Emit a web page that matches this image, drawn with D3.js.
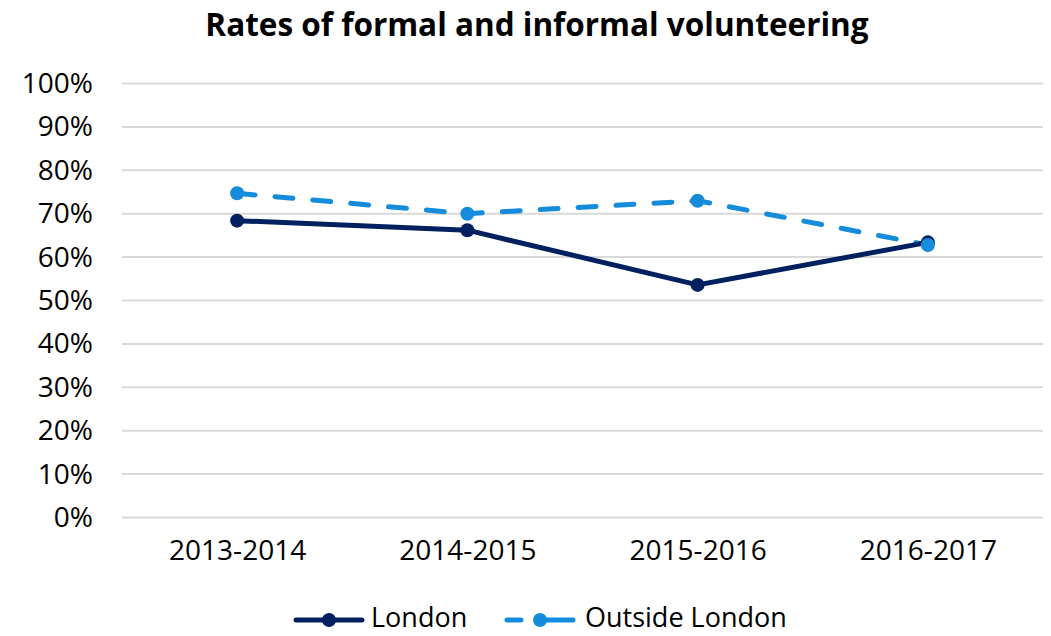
<!DOCTYPE html>
<html>
<head>
<meta charset="utf-8">
<script src="https://cdn.jsdelivr.net/npm/d3@7"></script>
<style>
  body { margin: 0; background: #fff; }
  text { font-family: "Open Sans", sans-serif; }
</style>
</head>
<body>
<div class="chart"></div>
<script>
const years = ["2013-2014", "2014-2015", "2015-2016", "2016-2017"];
const london = [68.4, 66.2, 53.6, 63.4];
const outsideLondon = [74.7, 70.0, 73.0, 62.8];
const yTicks = [0, 10, 20, 30, 40, 50, 60, 70, 80, 90, 100];

const svgWidth = 1051;
const svgHeight = 636;

const margin = { left: 122, right: 8, top: 83.5, bottom: 118.5 };

let svg = d3.select(".chart")
            .append("svg")
            .attr("width", svgWidth)
            .attr("height", svgHeight);

const xScale = d3.scalePoint()
                 .domain(years)
                 .range([margin.left, svgWidth - margin.right])
                 .padding(0.5);

const yScale = d3.scaleLinear()
                 .domain([0, 100])
                 .range([svgHeight - margin.bottom, margin.top]);

// gridlines
svg.append("g")
   .selectAll("line")
   .data(yTicks)
   .enter()
   .append("line")
   .attr("x1", margin.left)
   .attr("x2", svgWidth - margin.right)
   .attr("y1", d => yScale(d))
   .attr("y2", d => yScale(d))
   .attr("stroke", "#d9d9d9")
   .attr("stroke-width", 2);

const yAxis = d3.axisLeft(yScale)
                .tickValues(yTicks)
                .tickFormat(d => d + "%")
                .tickSize(0)
                .tickPadding(29);

svg.append("g")
   .attr("transform", "translate(" + margin.left + ",0)")
   .call(yAxis)
   .call(g => g.select(".domain").remove())
   .selectAll("text")
   .attr("font-family", "Open Sans")
   .attr("font-size", "28px")
   .attr("fill", "#000");

const xAxis = d3.axisBottom(xScale)
                .tickSize(0)
                .tickPadding(23);

svg.append("g")
   .attr("transform", "translate(0," + (svgHeight - margin.bottom) + ")")
   .call(xAxis)
   .call(g => g.select(".domain").remove())
   .selectAll("text")
   .attr("font-family", "Open Sans")
   .attr("font-size", "28px")
   .attr("fill", "#000");

svg.append("text")
   .attr("x", 537)
   .attr("y", 36)
   .attr("text-anchor", "middle")
   .attr("font-size", "31.5px")
   .attr("font-weight", "bold")
   .text("Rates of formal and informal volunteering");

const series = [
  { name: "London", values: london, color: "#002060", dash: null },
  { name: "Outside London", values: outsideLondon, color: "#158bdb", dash: "18,20" }
];

const line = d3.line()
               .x((d, i) => xScale(years[i]))
               .y(d => yScale(d));

// outside line drawn under London
[series[1], series[0]].forEach(s => {
  svg.append("path")
     .datum(s.values)
     .attr("d", line)
     .attr("fill", "none")
     .attr("stroke", s.color)
     .attr("stroke-width", 5)
     .attr("stroke-linecap", "round")
     .attr("stroke-linejoin", "round")
     .attr("stroke-dasharray", s.dash);
});

[series[0], series[1]].forEach(s => {
  svg.append("g")
     .selectAll("circle")
     .data(s.values)
     .enter()
     .append("circle")
     .attr("cx", (d, i) => xScale(years[i]))
     .attr("cy", d => yScale(d))
     .attr("r", 7)
     .attr("fill", s.color);
});

// legend
const legendY = 618;
const legendItems = [
  { s: series[0], x: 296, textX: 371 },
  { s: series[1], x: 507, textX: 585 }
];

legendItems.forEach(item => {
  const g = svg.append("g");
  g.append("line")
   .attr("x1", item.x)
   .attr("x2", item.x + 66)
   .attr("y1", legendY + 2)
   .attr("y2", legendY + 2)
   .attr("stroke", item.s.color)
   .attr("stroke-width", 5)
   .attr("stroke-linecap", "round")
   .attr("stroke-dasharray", item.s.dash ? "14,22,30" : null);
  g.append("circle")
   .attr("cx", item.x + 33)
   .attr("cy", legendY + 2)
   .attr("r", 7)
   .attr("fill", item.s.color);
  g.append("text")
   .attr("x", item.textX)
   .attr("y", legendY)
   .attr("dy", "0.35em")
   .attr("font-size", "27px")
   .text(item.s.name);
});
</script>
</body>
</html>
